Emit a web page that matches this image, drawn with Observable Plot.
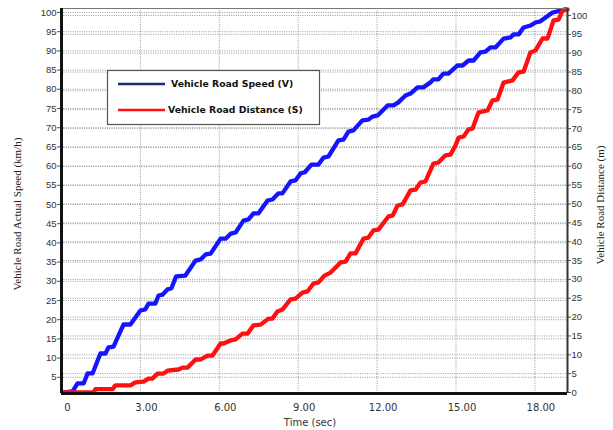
<!DOCTYPE html>
<html><head><meta charset="utf-8">
<script src="https://cdn.jsdelivr.net/npm/d3@7"></script>
<script src="https://cdn.jsdelivr.net/npm/@observablehq/plot@0.6"></script>
<style>body{margin:0;background:#fff}#chart{width:613px;height:430px}</style>
</head><body><div id="chart"></div>
<script>
// ---- data ----
const timeSpeed = [0.05,0.42,0.61,0.84,0.99,1.18,1.48,1.67,1.79,1.98,2.17,2.36,2.62,3.0,3.19,3.31,3.57,3.69,3.84,4.03,4.18,4.36,4.71,5.10,5.29,5.48,5.67,6.05,6.24,6.43,6.62,6.92,7.11,7.30,7.49,7.83,8.02,8.25,8.40,8.71,8.90,9.09,9.25,9.50,9.77,9.96,10.15,10.53,10.72,10.91,11.10,11.44,11.67,11.83,12.02,12.40,12.62,12.81,13.08,13.27,13.54,13.76,14.03,14.14,14.33,14.52,14.71,15.06,15.25,15.48,15.67,15.93,16.12,16.31,16.50,16.81,17.07,17.19,17.38,17.57,17.83,18.02,18.21,18.67,18.86,19.16];
const speedVals = [1.0,1.3,3.4,3.4,6,6,11.2,11.2,12.8,13,15.9,18.75,18.75,22.4,22.7,24.2,24.2,26.3,26.5,27.9,28.2,31.3,31.5,35.4,35.7,37,37.2,41.1,41.1,42.4,42.7,45.8,46.1,47.7,47.7,51,51.3,52.9,52.9,56,56.3,58.1,58.4,60.4,60.4,62.2,62.5,66.7,66.9,69,69.3,71.9,72.1,72.9,73.2,75.8,75.8,76.6,78.4,78.9,80.5,80.5,81.8,82.6,82.6,84.1,84.1,86.2,86.2,87.5,87.5,89.6,89.8,90.9,90.9,93.2,93.5,94.3,94.3,96.1,96.6,97.4,97.7,100,100.3,100.8];
const timeDist = [0.05,1.22,1.29,1.94,2.05,2.62,2.81,3.12,3.31,3.46,3.65,3.88,4.03,4.45,4.60,4.79,5.10,5.29,5.55,5.74,6.05,6.16,6.43,6.62,6.88,7.07,7.30,7.57,7.87,8.02,8.21,8.40,8.71,8.90,9.16,9.35,9.58,9.77,10.0,10.23,10.61,10.80,10.99,11.18,11.48,11.67,11.86,12.05,12.43,12.59,12.78,12.97,13.27,13.46,13.65,13.84,14.14,14.33,14.60,14.79,14.98,15.10,15.29,15.48,15.63,15.86,16.2,16.39,16.58,16.81,17.15,17.38,17.57,17.83,18.02,18.29,18.48,18.71,18.90,19.05,19.24];
const distVals = [0,0,0.9,0.9,1.9,1.9,2.7,2.9,3.7,3.7,5.0,5.0,5.8,6.1,6.6,6.6,8.75,8.75,9.8,9.8,13,13,13.8,14.1,15.6,15.6,17.8,18,19.6,19.6,21.5,22,24.7,24.9,26.5,26.8,28.9,29.2,31.0,31.8,34.5,34.7,36.9,36.9,40.8,41.1,43,43.2,46.7,46.9,49.6,49.9,53.6,53.8,55.7,56,60.7,61,62.9,63.1,65.5,67.6,67.9,69.8,70,74.3,74.8,77.5,77.7,82.2,82.8,84.9,85.1,90.2,90.7,93.9,93.9,98.7,98.9,101.3,101.6];
const xTicks = [0,3,6,9,12,15,18];
const xTickLabels = ["0","3.00","6.00","9.00","12.00","15.00","18.00"];
const leftTicks = d3.range(5,101,5);
const rightTicks = d3.range(0,101,5);
const seriesNames = ["Vehicle Road Speed (V)","Vehicle Road Distance (S)"];

// right (distance) axis is slightly offset from the left (speed) axis
const toV = d => 1.042 + 0.9818*d;
const fromV = v => Math.round((v-1.042)/0.9818);
const speedData = timeSpeed.map((t,i)=>({t, v: speedVals[i]}));
const distData = timeDist.map((t,i)=>({t, v: toV(distVals[i])}));
const X0 = 0, X1 = 19.24, Y0 = 0.78, Y1 = 101.04;
const grid = {stroke:"#9a9a9a", strokeDasharray:"1,1.3", strokeWidth:1};
const tickFont = {fontFamily:"Liberation Sans Narrow, Liberation Sans, Arial", fontSize:9.5, fill:"#333"};

const plot = Plot.plot({
  width:613, height:430, marginLeft:61, marginRight:46, marginTop:8, marginBottom:37,
  x:{domain:[X0,X1]}, y:{domain:[Y0,Y1]},
  style:{fontFamily:"DejaVu Sans", fontSize:"10px", background:"#fff", color:"#333", overflow:"visible"},
  marks:[
    Plot.ruleY(leftTicks, grid),
    Plot.ruleY(rightTicks.map(toV), grid),
    Plot.ruleX(xTicks.slice(1), grid),
    Plot.axisY(leftTicks, {anchor:"left", tickSize:4, tickPadding:1, label:null, stroke:"#555", ...tickFont}),
    Plot.axisY(rightTicks.map(toV), {anchor:"right", tickSize:3, tickPadding:1, tickFormat:fromV, label:null, stroke:"#555", ...tickFont}),
    Plot.axisX(xTicks, {anchor:"bottom", tickSize:0, tickPadding:10, dx:6, label:null, fill:"#333", fontSize:10,
      tickFormat: d => xTickLabels[xTicks.indexOf(d)]}),
    Plot.line(speedData, {x:"t", y:"v", stroke:"#1414ff", strokeWidth:4.3, strokeLinejoin:"round"}),
    Plot.line(distData, {x:"t", y:"v", stroke:"#ff1010", strokeWidth:4.3, strokeLinejoin:"round"}),
    Plot.ruleY([Y1], {stroke:"#777", strokeWidth:1}),
    Plot.ruleX([X1], {stroke:"#333", strokeWidth:2}),
    Plot.ruleX([X0], {stroke:"#111", strokeWidth:3}),
    Plot.ruleY([Y0], {stroke:"#111", strokeWidth:3})
  ]
});
document.getElementById("chart").appendChild(plot);

const svg = d3.select(plot);
// axis titles
svg.append("text").attr("transform","translate(18,214) rotate(-90)").attr("text-anchor","middle")
  .attr("dominant-baseline","middle").attr("font-family","Liberation Serif, Times New Roman, serif")
  .attr("font-size",11).attr("fill","#222").text("Vehicle Road Actual Speed (km/h)");
svg.append("text").attr("transform","translate(601,205) rotate(-90)").attr("text-anchor","middle")
  .attr("dominant-baseline","middle").attr("font-family","Liberation Serif, Times New Roman, serif")
  .attr("font-size",11).attr("fill","#222").text("Vehicle Road Distance (m)");
svg.append("text").attr("x",310).attr("y",423).attr("text-anchor","middle").attr("dominant-baseline","middle")
  .attr("font-family","DejaVu Sans").attr("font-size",10).attr("fill","#333").text("Time (sec)");
// legend
const lg = svg.append("g");
lg.append("rect").attr("x",107.5).attr("y",70.5).attr("width",212).attr("height",54)
  .attr("fill","#fff").attr("stroke","#555").attr("stroke-width",1.2);
const legendColors = ["#1c2e78","#ff1010"];
const legendY = [84,110];
const legendTextX = [171,168];
seriesNames.forEach((n,i)=>{
  lg.append("line").attr("x1",118).attr("x2",165).attr("y1",legendY[i]).attr("y2",legendY[i])
    .attr("stroke",legendColors[i]).attr("stroke-width",2.5);
  lg.append("text").attr("x",legendTextX[i]).attr("y",legendY[i]).attr("text-anchor","start")
    .attr("dominant-baseline","middle")
    .attr("font-family","DejaVu Sans").attr("font-weight","bold").attr("font-size",9.3).attr("fill","#111").text(n);
});
</script></body></html>
